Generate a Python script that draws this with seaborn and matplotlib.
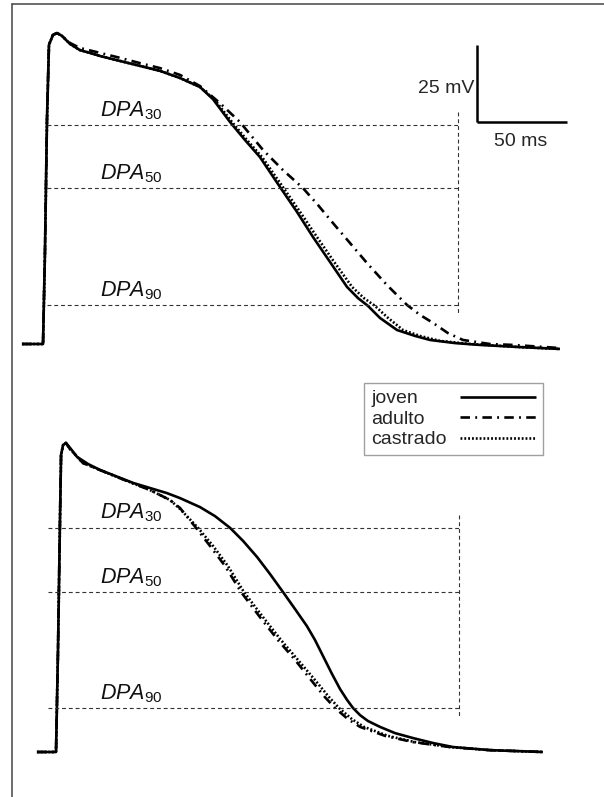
import numpy as np
import pandas as pd
import matplotlib
matplotlib.use("Agg")
import matplotlib.pyplot as plt
from matplotlib.lines import Line2D
import seaborn as sns

# ---------------- data (ms, mV) ----------------
# top panel
top_joven_t = [-12.8, -1.1, 0, 1.1, 2.2, 4.4, 6.7, 9.4, 13.9, 19.4, 25, 30.6, 41.7, 52.8, 63.9, 75, 86.1, 93.3,
               102.8, 111.1, 119.4, 130.6, 140, 148.9, 158.3, 167.8, 173.9, 179.4, 186.1, 195.6, 205.6, 213.9,
               227.8, 241.7, 263.9, 286.1]
top_joven_v = [-80, -80, -49.7, -7.7, 16.5, 19.7, 20.3, 19.4, 16.8, 14.8, 13.9, 12.9, 11.3, 9.7, 8.1, 5.8, 2.9, -1.0,
               -8.4, -14.2, -19.7, -29.4, -37.4, -45.5, -53.5, -61.6, -65.2, -67.7, -71.6, -75.5, -77.4, -78.7,
               -79.7, -80.3, -81.0, -81.6]
top_adulto_t = [-12.8, -1.1, 0, 1.1, 2.2, 4.4, 6.7, 9.4, 13.9, 19.4, 30.6, 41.7, 52.8, 63.9, 75, 86.1, 97.2, 108.3,
                121.1, 132.2, 143.3, 151.7, 160, 169.4, 178.9, 190, 201.1, 208.3, 215.6, 223.9, 232.2, 247.2,
                260, 286.1]
top_adulto_v = [-80, -80, -49.7, -7.7, 16.5, 19.7, 20.3, 19.4, 17.1, 15.5, 13.9, 12.3, 10.6, 9.0, 6.8, 3.2, -2.3,
                -8.4, -17.4, -23.9, -29.7, -35.2, -41.0, -47.4, -53.9, -61.0, -67.4, -70.6, -73.2, -76.5, -78.7,
                -80.0, -80.3, -81.3]
top_castrado_t = [-12.8, -1.1, 0, 1.1, 2.2, 4.4, 6.7, 9.4, 13.9, 19.4, 25, 30.6, 41.7, 52.8, 63.9, 75, 86.1, 94.4,
                  103.9, 112.2, 120.6, 132.2, 141.7, 151.1, 160.6, 170.6, 177.2, 183.3, 190, 198.9, 208.3, 219.4,
                  236.1, 263.9, 286.1]
top_castrado_v = [-80, -80, -49.7, -7.7, 16.5, 19.7, 20.3, 19.4, 16.8, 14.8, 13.9, 12.9, 11.3, 9.7, 8.1, 5.8, 2.9,
                  -1.3, -8.4, -14.2, -19.7, -29.4, -37.4, -45.5, -53.5, -61.6, -65.2, -67.7, -71.3, -75.5, -77.4,
                  -79.0, -80.0, -81.0, -81.6]
top_dpa_levels = [-9.4, -29.7, -67.4]
top_dpa_start, top_dpa_end = 1.1, 229.4
top_dpa_vline = [-5.2, -70.0]

# bottom panel
bot_joven_t = [-11.7, -1.1, 0, 1.1, 1.7, 2.8, 4.4, 6.7, 10.6, 16.7, 23.3, 41.7, 60.6, 67.8, 78.9, 87.2, 95.6,
               102.8, 110.6, 117.8, 125, 131.7, 138.3, 142.8, 147.2, 152.2, 156.7, 160.6, 163.9, 167.8, 172.2,
               178.9, 187.2, 197.2, 208.3, 219.4, 240, 269.4]
bot_joven_v = [-80, -80, -47.1, -5.2, 15.8, 19.0, 19.7, 18.1, 15.2, 12.9, 11.0, 6.8, 3.5, 1.9, -1.0, -3.9, -7.7,
               -11.9, -17.1, -22.6, -28.4, -33.9, -39.4, -43.9, -49.0, -54.8, -59.7, -63.2, -65.8, -68.1, -70.0,
               -71.9, -73.9, -75.5, -77.1, -78.4, -79.4, -80]
bot_adulto_t = [-11.7, -1.1, 0, 1.1, 1.7, 2.8, 4.4, 6.7, 13.9, 32.8, 51.1, 62.2, 67.8, 76.7, 84.4, 92.8, 101.7,
                112.2, 122.2, 131.7, 140.6, 148.3, 153.9, 161.1, 167.8, 181.7, 197.2, 217.8, 240, 269.4]
bot_adulto_v = [-80, -80, -47.1, -5.2, 15.8, 19.0, 19.7, 17.7, 13.2, 8.7, 4.5, 1.3, -1.3, -7.7, -13.5, -20, -28.4,
                -36.5, -43.9, -50.3, -56.8, -62.3, -65.8, -69.4, -71.9, -74.8, -76.8, -78.4, -79.4, -80]
bot_castrado_t = [-11.7, -1.1, 0, 1.1, 1.7, 2.8, 4.4, 6.7, 13.9, 32.8, 51.1, 62.2, 67.8, 77.8, 86.1, 94.4, 103.3,
                  113.9, 123.9, 133.3, 142.8, 150.6, 156.1, 163.3, 170, 183.3, 198.3, 217.8, 240, 269.4]
bot_castrado_v = [-80, -80, -47.1, -5.2, 15.8, 19.0, 19.7, 17.7, 13.2, 8.7, 4.5, 1.3, -1.6, -7.7, -13.5, -20, -28.4,
                  -36.5, -43.9, -50.3, -56.8, -62.3, -65.8, -69.4, -71.9, -74.8, -76.8, -78.4, -79.4, -80]
bot_dpa_levels = [-7.7, -28.4, -65.8]
bot_dpa_start, bot_dpa_end = -5.6, 222.8
bot_dpa_vline = [-3.5, -68.7]

groups = ["joven", "adulto", "castrado"]
dpa_labels = [r"$\mathit{DPA}_{\mathrm{30}}$", r"$\mathit{DPA}_{\mathrm{50}}$", r"$\mathit{DPA}_{\mathrm{90}}$"]
scale_ms, scale_mv = 50, 25

# ---------------- style ----------------
sns.set_style("white")
plt.rcParams["font.family"] = ["Liberation Sans", "DejaVu Sans"]
plt.rcParams["mathtext.fontset"] = "custom"
plt.rcParams["mathtext.rm"] = "Liberation Sans"
plt.rcParams["mathtext.it"] = "Liberation Sans:italic"

W, H = 604, 797
fig = plt.figure(figsize=(W / 100, H / 100), dpi=100)

styles = {
    "joven": (0, ()),
    "adulto": (0, (3.6, 2.0, 0.7, 2.0)),
    "castrado": (0, (0.7, 0.75)),
}
LW = 1.9


def make_axes(y0_px, y1_px, x_origin_px, y_base_px):
    # axes spanning figure rows y0_px..y1_px (from top), 1.8 px per ms, 3.1 px per mV
    ax = fig.add_axes([0, 1 - y1_px / H, 1, (y1_px - y0_px) / H])
    ax.set_xlim((0 - x_origin_px) / 1.8, (W - x_origin_px) / 1.8)
    ax.set_ylim(-80 + (y_base_px - y1_px) / 3.1, -80 + (y_base_px - y0_px) / 3.1)
    ax.axis("off")
    return ax


def draw_panel(ax, series, levels, x0, x1, vline, label_x):
    for g, (t, v) in zip(groups, series):
        df = pd.DataFrame({"t": t, "V": v})
        sns.lineplot(data=df, x="t", y="V", ax=ax, color="black", lw=LW,
                     linestyle=styles[g], estimator=None, sort=False, label=g, legend=False)
    for lev, lab in zip(levels, dpa_labels):
        ax.plot([x0, x1], [lev, lev], color="#333333", lw=0.8, linestyle=(0, (3.5, 2.6)))
        ax.annotate(lab, xy=(label_x, lev), xytext=(0, 6.5), textcoords="offset points",
                    fontsize=15.5, ha="left", va="baseline", color="#111111")
    ax.plot([x1, x1], vline, color="#333333", lw=0.8, linestyle=(0, (3.5, 2.6)))


ax_top = make_axes(0, 400, 45, 344)
draw_panel(ax_top,
           [(top_joven_t, top_joven_v), (top_adulto_t, top_adulto_v), (top_castrado_t, top_castrado_v)],
           top_dpa_levels, top_dpa_start, top_dpa_end, top_dpa_vline, 30.6)

ax_bot = make_axes(400, H, 58, 752)
draw_panel(ax_bot,
           [(bot_joven_t, bot_joven_v), (bot_adulto_t, bot_adulto_v), (bot_castrado_t, bot_castrado_v)],
           bot_dpa_levels, bot_dpa_start, bot_dpa_end, bot_dpa_vline, 23.3)

# scale bar
cx, cy = 240, -8.5
ax_top.plot([cx, cx + scale_ms], [cy, cy], color="black", lw=1.8, solid_capstyle="butt")
ax_top.plot([cx, cx], [cy, cy + scale_mv], color="black", lw=1.8, solid_capstyle="butt")
ax_top.text(cx - 1.2, cy + 11, f"{scale_mv} mV", fontsize=14, ha="right", va="center")
ax_top.text(cx + scale_ms / 2 - 0.5, cy - 6.2, f"{scale_ms} ms", fontsize=14, ha="center", va="center")

# legend (labels left, line samples right)
FS = 14
handles = [Line2D([], [], color="black", lw=LW, linestyle=styles[g]) for g in groups]
leg = fig.legend(handles, groups, loc="upper right", bbox_to_anchor=(543 / W, 1 - 383 / H),
                 bbox_transform=fig.transFigure, markerfirst=False, fontsize=FS, frameon=True,
                 fancybox=False, edgecolor="#888888", handlelength=3.9, handletextpad=0.7,
                 labelspacing=0.15, borderpad=0.35, borderaxespad=0)
leg.get_frame().set_linewidth(1.0)

fig.canvas.draw()
renderer = fig.canvas.get_renderer()
rows = [r for col in leg._legend_handle_box.get_children() for r in col.get_children()]
widths = [r.get_children()[0].get_bbox(renderer).width for r in rows]
wmax = max(widths)
p2px = renderer.points_to_pixels(1.0)
for r, w in zip(rows, widths):
    r.sep = 0.7 * FS + (wmax - w) / p2px

# figure frame (top and left edges)
fig.add_artist(Line2D([12 / W, 12 / W], [0, 1 - 4 / H], transform=fig.transFigure, color="#444444", lw=1.1))
fig.add_artist(Line2D([12 / W, 1], [1 - 4 / H, 1 - 4 / H], transform=fig.transFigure, color="#444444", lw=1.1))

fig.savefig("out.png", dpi=100, facecolor="white")
